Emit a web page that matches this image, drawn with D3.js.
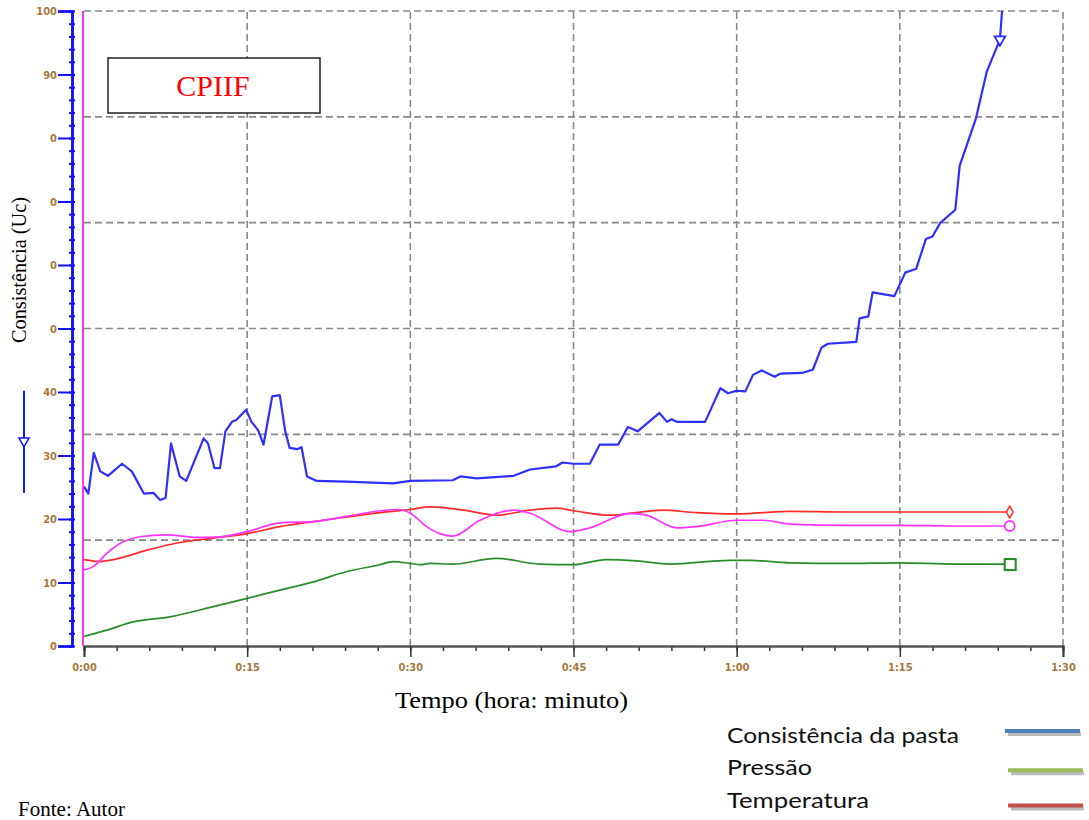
<!DOCTYPE html>
<html>
<head>
<meta charset="utf-8">
<script src="https://cdnjs.cloudflare.com/ajax/libs/d3/7.8.5/d3.min.js"></script>
<style>
  body { margin: 0; background: #fff; }
  svg { display: block; }
</style>
</head>
<body>
<svg class="chart" width="1089" height="820"></svg>
<script>
// time in minutes
var consistTime = [0, 0.4, 0.9, 1.5, 2.2, 3.5, 4.4, 5.5, 6.4, 7.0, 7.5, 8.0, 8.8, 9.4, 11.0, 11.4, 12.0, 12.5, 13.0, 13.6,
    14.0, 14.9, 15.4, 16.0, 16.5, 17.3, 18.0, 18.5, 18.9, 19.6, 20.0, 20.5, 21.4, 24.1, 28.4, 30.0, 33.9, 34.6, 36.1, 39.5,
    41.0, 43.4, 44.0, 45.0, 46.5, 47.4, 49.1, 50.0, 50.9, 52.9, 53.6, 54.0, 54.5, 57.1, 58.5, 59.2, 60.0, 60.8, 61.5, 62.3,
    63.5, 64.0, 66.0, 67.0, 67.8, 68.4, 71.0, 71.3, 72.1, 72.5, 74.5, 75.5, 76.5, 77.4, 78.0, 78.7, 80.1, 80.5, 82.0, 83.0,
    84.2, 84.4];
var consistVal = [25.1, 24.0, 30.4, 27.5, 26.8, 28.7, 27.5, 24.0, 24.1, 23.0, 23.3, 31.9, 26.7, 26.0, 32.7, 31.9, 28.0, 28.0, 33.8, 35.3,
    35.6, 37.2, 35.3, 34.0, 31.7, 39.3, 39.5, 33.8, 31.2, 31.0, 31.3, 26.7, 26.0, 25.9, 25.6, 26.0, 26.1, 26.7, 26.4, 26.8,
    27.8, 28.3, 28.9, 28.7, 28.7, 31.7, 31.7, 34.5, 33.8, 36.7, 35.3, 35.7, 35.3, 35.3, 40.6, 39.8, 40.2, 40.1, 42.7, 43.4,
    42.4, 42.9, 43.0, 43.5, 47.0, 47.6, 47.9, 51.6, 51.9, 55.7, 55.1, 58.8, 59.4, 64.1, 64.5, 66.6, 68.7, 75.6, 83.1, 90.5,
    95.5, 100];

var tempTime = [0, 1.5, 2.7, 5.8, 8.8, 11.9, 15.0, 18.0, 21.1, 24.1, 27.2, 30.0, 31.8, 34.9, 37.9, 41.0, 43.4, 45.0, 48.3, 53.2,
    56.3, 60.0, 64.9, 70, 75, 80, 85.1];
var tempVal = [13.6, 13.3, 13.6, 15.1, 16.3, 17.0, 17.7, 18.8, 19.6, 20.3, 21.0, 21.5, 21.9, 21.4, 20.6, 21.4, 21.7, 21.3, 20.6, 21.4,
    21.0, 20.8, 21.2, 21.1, 21.1, 21.1, 21.1];

var pinkTime = [0, 0.85, 2.1, 3.6, 5.1, 7.6, 10.4, 12.5, 15.0, 18.0, 21.1, 24.1, 27.2, 29.0, 30.0, 31.5, 32.7, 33.9, 36.4, 39.5,
    41.0, 44.7, 46.5, 50.2, 51.7, 54.5, 56.3, 60.0, 62.4, 64.9, 70, 75, 80, 85.1];
var pinkVal = [12.0, 12.5, 14.6, 16.4, 17.2, 17.5, 17.1, 17.2, 18.0, 19.4, 19.6, 20.4, 21.3, 21.5, 20.9, 18.8, 17.7, 17.3, 19.8, 21.4,
    20.9, 18.0, 18.6, 20.9, 20.6, 18.6, 18.8, 19.8, 19.8, 19.2, 19.0, 19.0, 18.9, 18.9];

var pressTime = [0, 0.85, 2.1, 4.5, 7.9, 11.9, 15.0, 18.0, 21.1, 24.1, 27.2, 28.4, 30.0, 30.9, 31.8, 33.9, 37.9, 41.9, 45.0, 48.0,
    50.8, 53.9, 59.4, 61.2, 64.9, 70, 75, 80, 85.1];
var pressVal = [1.5, 1.9, 2.5, 3.8, 4.6, 6.2, 7.5, 8.8, 10.1, 11.7, 12.8, 13.3, 13.0, 12.8, 13.0, 12.9, 13.8, 12.9, 12.8, 13.6,
    13.4, 12.9, 13.5, 13.5, 13.1, 13.0, 13.1, 12.9, 12.9];

var xTicks = [0, 15, 30, 45, 60, 75, 90];
var xTickLabels = ["0:00", "0:15", "0:30", "0:45", "1:00", "1:15", "1:30"];
var yTicks = [0, 10, 20, 30, 40, 50, 60, 70, 80, 90, 100];
var yTickLabels = ["0", "10", "20", "30", "40", "0", "0", "0", "0", "90", "100"];

var legendNames = ["Consistência da pasta", "Pressão", "Temperatura"];
var legendColors = ["#4f81bd", "#9bbb59", "#c0504d"];

var svg = d3.select(".chart");

var x = d3.scaleLinear().domain([0, 90]).range([84, 1063]);
var y = d3.scaleLinear().domain([0, 100]).range([646, 11]);

function pairs(t, v) {
    return t.map(function(d, i) { return [d, v[i]]; });
}

svg.append("defs").append("clipPath")
    .attr("id", "plot")
    .append("rect")
    .attr("x", 84).attr("y", 11)
    .attr("width", 979).attr("height", 635);

// grid
var grid = svg.append("g")
    .attr("stroke", "#888")
    .attr("stroke-width", 1.6)
    .attr("stroke-dasharray", "7,4");

grid.selectAll(".hg")
    .data(d3.range(1, 7).map(function(i) { return i * 100 / 6; }))
    .enter()
    .append("line")
    .attr("x1", x(0)).attr("x2", x(90))
    .attr("y1", function(d) { return y(d); })
    .attr("y2", function(d) { return y(d); });

grid.selectAll(".vg")
    .data(xTicks.slice(1))
    .enter()
    .append("line")
    .attr("y1", y(0)).attr("y2", y(100))
    .attr("x1", function(d) { return x(d); })
    .attr("x2", function(d) { return x(d); });

// x axis
var xAxis = svg.append("g")
    .attr("transform", "translate(0," + y(0) + ")");

xAxis.call(d3.axisBottom(x).tickValues(d3.range(0, 91, 3)).tickSize(5).tickFormat(""));
xAxis.append("g")
    .call(d3.axisBottom(x).tickValues(xTicks).tickSize(11)
        .tickFormat(function(d, i) { return xTickLabels[i]; }));

xAxis.selectAll("path").attr("stroke", "#555").attr("stroke-width", 2);
xAxis.selectAll("line").attr("stroke", "#333").attr("stroke-width", 1.5);
xAxis.selectAll("text")
    .attr("y", 17)
    .attr("fill", "#a8783c")
    .style("font-family", "Liberation Sans Narrow, DejaVu Sans Condensed, sans-serif")
    .style("font-size", "11px")
    .style("font-weight", "bold");

// magenta axis line
svg.append("line")
    .attr("x1", 83).attr("x2", 83)
    .attr("y1", y(0)).attr("y2", y(100))
    .attr("stroke", "#ff33ff")
    .attr("stroke-width", 2);

// blue y axis
var yAxis = svg.append("g")
    .attr("transform", "translate(72,0)");

yAxis.call(d3.axisLeft(y).tickValues(d3.range(0, 101, 2)).tickSize(3).tickFormat(""));
yAxis.selectAll(".tick line").attr("x2", 3).attr("x1", -3);
yAxis.append("g")
    .call(d3.axisLeft(y).tickValues(yTicks).tickSize(14)
        .tickFormat(function(d, i) { return yTickLabels[i]; }));

yAxis.selectAll("path").attr("stroke", "#1010ff").attr("stroke-width", 2.5);
yAxis.selectAll("line").attr("stroke", "#1010ff").attr("stroke-width", 2);
yAxis.selectAll("text")
    .attr("x", -15)
    .attr("fill", "#a8783c")
    .style("font-family", "Liberation Sans Narrow, DejaVu Sans Condensed, sans-serif")
    .style("font-size", "11px")
    .style("font-weight", "bold");

// blue indicator arrow on the left
svg.append("line")
    .attr("x1", 24).attr("x2", 24)
    .attr("y1", y(40.2)).attr("y2", y(24.1))
    .attr("stroke", "#1515ff")
    .attr("stroke-width", 2);
svg.append("path")
    .attr("d", d3.symbol().type(d3.symbolTriangle).size(45))
    .attr("transform", "translate(24," + y(32.3) + ") rotate(180)")
    .attr("fill", "#fff")
    .attr("stroke", "#1515ff")
    .attr("stroke-width", 1.5);

// series
var lines = svg.append("g").attr("clip-path", "url(#plot)");

var smooth = d3.line()
    .x(function(d) { return x(d[0]); })
    .y(function(d) { return y(d[1]); })
    .curve(d3.curveMonotoneX);

var straight = d3.line()
    .x(function(d) { return x(d[0]); })
    .y(function(d) { return y(d[1]); });

lines.append("path")
    .attr("d", smooth(pairs(pressTime, pressVal)))
    .attr("fill", "none").attr("stroke", "#2a8c2a").attr("stroke-width", 1.7);

lines.append("path")
    .attr("d", smooth(pairs(tempTime, tempVal)))
    .attr("fill", "none").attr("stroke", "#ff2b2b").attr("stroke-width", 1.7);

lines.append("path")
    .attr("d", smooth(pairs(pinkTime, pinkVal)))
    .attr("fill", "none").attr("stroke", "#ff33ff").attr("stroke-width", 1.7);

lines.append("path")
    .attr("d", straight(pairs(consistTime, consistVal)))
    .attr("fill", "none").attr("stroke", "#2f2fff").attr("stroke-width", 2.2)
    .attr("stroke-linejoin", "round");

// end markers
var n = consistTime.length - 2;
svg.append("path")
    .attr("d", d3.symbol().type(d3.symbolTriangle).size(50))
    .attr("transform", "translate(" + x(consistTime[n]) + "," + y(consistVal[n]) + ") rotate(180)")
    .attr("fill", "#fff").attr("stroke", "#2a2aff").attr("stroke-width", 1.8);

var last = tempTime.length - 1;
svg.append("path")
    .attr("d", d3.symbol().type(d3.symbolDiamond).size(40))
    .attr("transform", "translate(" + x(tempTime[last]) + "," + y(tempVal[last]) + ")")
    .attr("fill", "#fff").attr("stroke", "#ff2b2b").attr("stroke-width", 1.5);

last = pinkTime.length - 1;
svg.append("circle")
    .attr("cx", x(pinkTime[last])).attr("cy", y(pinkVal[last])).attr("r", 5)
    .attr("fill", "#fff").attr("stroke", "#ff33ff").attr("stroke-width", 1.8);

last = pressTime.length - 1;
svg.append("rect")
    .attr("x", x(pressTime[last]) - 5).attr("y", y(pressVal[last]) - 5)
    .attr("width", 11).attr("height", 11)
    .attr("fill", "#fff").attr("stroke", "#1f8a1f").attr("stroke-width", 2);

// CPIIF box
svg.append("rect")
    .attr("x", 108).attr("y", 58)
    .attr("width", 212).attr("height", 55)
    .attr("fill", "#fff").attr("stroke", "#222").attr("stroke-width", 1.5);
svg.append("text")
    .attr("x", 213).attr("y", 96)
    .attr("text-anchor", "middle")
    .attr("fill", "#ff0000")
    .style("font-family", "Liberation Serif, Times New Roman, serif")
    .style("font-size", "30px")
    .text("CPIIF");

// axis titles
svg.append("text")
    .attr("transform", "translate(26,270) rotate(-90)")
    .attr("text-anchor", "middle")
    .attr("textLength", 146)
    .attr("lengthAdjust", "spacingAndGlyphs")
    .style("font-family", "Liberation Serif, Times New Roman, serif")
    .style("font-size", "21px")
    .text("Consistência (Uc)");

svg.append("text")
    .attr("x", 395).attr("y", 708)
    .attr("textLength", 233)
    .attr("lengthAdjust", "spacingAndGlyphs")
    .style("font-family", "Liberation Serif, Times New Roman, serif")
    .style("font-size", "23px")
    .text("Tempo (hora: minuto)");

svg.append("text")
    .attr("x", 18).attr("y", 816)
    .attr("textLength", 107)
    .attr("lengthAdjust", "spacingAndGlyphs")
    .style("font-family", "Liberation Serif, Times New Roman, serif")
    .style("font-size", "21px")
    .text("Fonte: Autor");

// legend
var legendWidths = [232, 85, 142];
var legend = svg.selectAll(".legend")
    .data(legendNames)
    .enter()
    .append("g")
    .attr("transform", function(d, i) { return "translate(727," + (743 + i * 32.3) + ")"; });

legend.append("text")
    .attr("textLength", function(d, i) { return legendWidths[i]; })
    .attr("lengthAdjust", "spacingAndGlyphs")
    .attr("fill", "#111")
    .style("font-family", "Lato, Open Sans, sans-serif")
    .style("font-size", "21px")
    .text(function(d) { return d; });

legend.append("line")
    .attr("x1", function(d, i) { return i == 0 ? 280 : 283; })
    .attr("x2", function(d, i) { return i == 0 ? 353 : 356; })
    .attr("y1", function(d, i) { return [-11, -4, -1][i]; })
    .attr("y2", function(d, i) { return [-11, -4, -1][i]; })
    .attr("transform", "translate(1,2)")
    .attr("stroke", "#bbb")
    .attr("stroke-width", 4);

legend.append("line")
    .attr("x1", function(d, i) { return i == 0 ? 278 : 281; })
    .attr("x2", function(d, i) { return i == 0 ? 353 : 356; })
    .attr("y1", function(d, i) { return [-12, -5, -2][i]; })
    .attr("y2", function(d, i) { return [-12, -5, -2][i]; })
    .attr("stroke", function(d, i) { return legendColors[i]; })
    .attr("stroke-width", 4);
</script>
</body>
</html>
